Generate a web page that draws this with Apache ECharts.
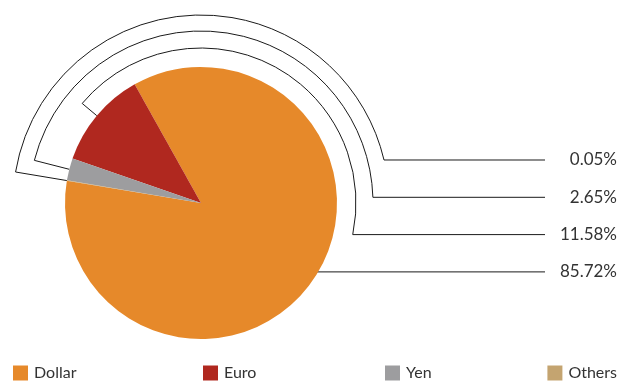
<!DOCTYPE html>
<html><head><meta charset="utf-8">
<script src="https://cdn.jsdelivr.net/npm/echarts@6/dist/echarts.min.js"></script>
<style>html,body{margin:0;padding:0;background:#fff}#c{width:620px;height:381px}</style>
</head><body><div id="c"></div>
<script>
const categories = ['Dollar', 'Euro', 'Yen', 'Others'];
const values = [85.72, 11.58, 2.65, 0.05];
const percentLabels = ['85.72%', '11.58%', '2.65%', '0.05%'];
const colors = ['#E6892A', '#B0281F', '#9D9D9F', '#C4A470'];

// layout constants
const CX = 201, CY = 203, R = 136, START = 170.6;
const rowOf = [3, 2, 1, 0];          // label row (top to bottom) per category
const arcR = [188, 172, 155];        // callout arc radius per row
const ROW0 = 160, ROWSTEP = 37.3, LINE_END = 545, TEXT_RIGHT = 617;
const FONT = 'Lato, "Open Sans", sans-serif';

const total = values.reduce((a, b) => a + b, 0);
function midAngle(i) {
  let cum = 0;
  for (let k = 0; k < i; k++) cum += values[k];
  return START + 360 * (cum + values[i] / 2) / total;
}

function renderItem(params, api) {
  const i = params.dataIndex;
  const row = rowOf[i];
  const y = ROW0 + row * ROWSTEP;
  const children = [];
  let d;
  if (row < 3) {
    const r = arcR[row];
    const a = midAngle(i) * Math.PI / 180;
    const b = Math.asin((CY - y) / r);
    const x0 = CX + R * Math.cos(a), y0 = CY - R * Math.sin(a);
    const x1 = CX + r * Math.cos(a), y1 = CY - r * Math.sin(a);
    const x2 = CX + r * Math.cos(b), y2 = CY - r * Math.sin(b);
    let span = (a - b) * 180 / Math.PI; span = ((span % 360) + 360) % 360;
    const large = span > 180 ? 1 : 0;
    d = `M${x0} ${y0}L${x1} ${y1}A${r} ${r} 0 ${large} 1 ${x2} ${y2}L${LINE_END} ${y}`;
  } else {
    const dy = y - CY;
    const xe = CX + Math.sqrt(R * R - dy * dy);
    d = `M${xe - 2} ${y}L${LINE_END} ${y}`;
  }
  children.push({
    type: 'path', shape: { pathData: d },
    style: { fill: null, stroke: '#1a1a1a', lineWidth: 1 }
  });
  children.push({
    type: 'text',
    style: { x: TEXT_RIGHT, y: y, text: percentLabels[i], align: 'right', verticalAlign: 'middle',
      fill: '#333', font: '17px ' + FONT }
  });
  return { type: 'group', children };
}

const legendPos = [{ left: 13 }, { left: 203 }, { left: 385 }, { right: 3 }];
const chart = echarts.init(document.getElementById('c'), null, { renderer: 'canvas' });
chart.setOption({
  animation: false,
  color: colors,
  legend: categories.map((name, i) => Object.assign({
    data: [name], top: 365, padding: 0, icon: 'rect', itemWidth: 15, itemHeight: 15,
    itemGap: 6, selectedMode: false,
    textStyle: { fontSize: 16, color: '#333', fontFamily: FONT, padding: [2, 0, 0, 1] }
  }, legendPos[i])),
  series: [
    {
      type: 'pie', silent: true, center: [CX, CY], radius: R, startAngle: START, clockwise: false,
      label: { show: false }, labelLine: { show: false },
      itemStyle: { borderWidth: 0 },
      data: categories.map((n, i) => ({ name: n, value: values[i] }))
    },
    {
      type: 'custom', coordinateSystem: 'none', silent: true,
      data: values.map((v, i) => [i, v]),
      renderItem: renderItem
    }
  ]
});
</script></body></html>
